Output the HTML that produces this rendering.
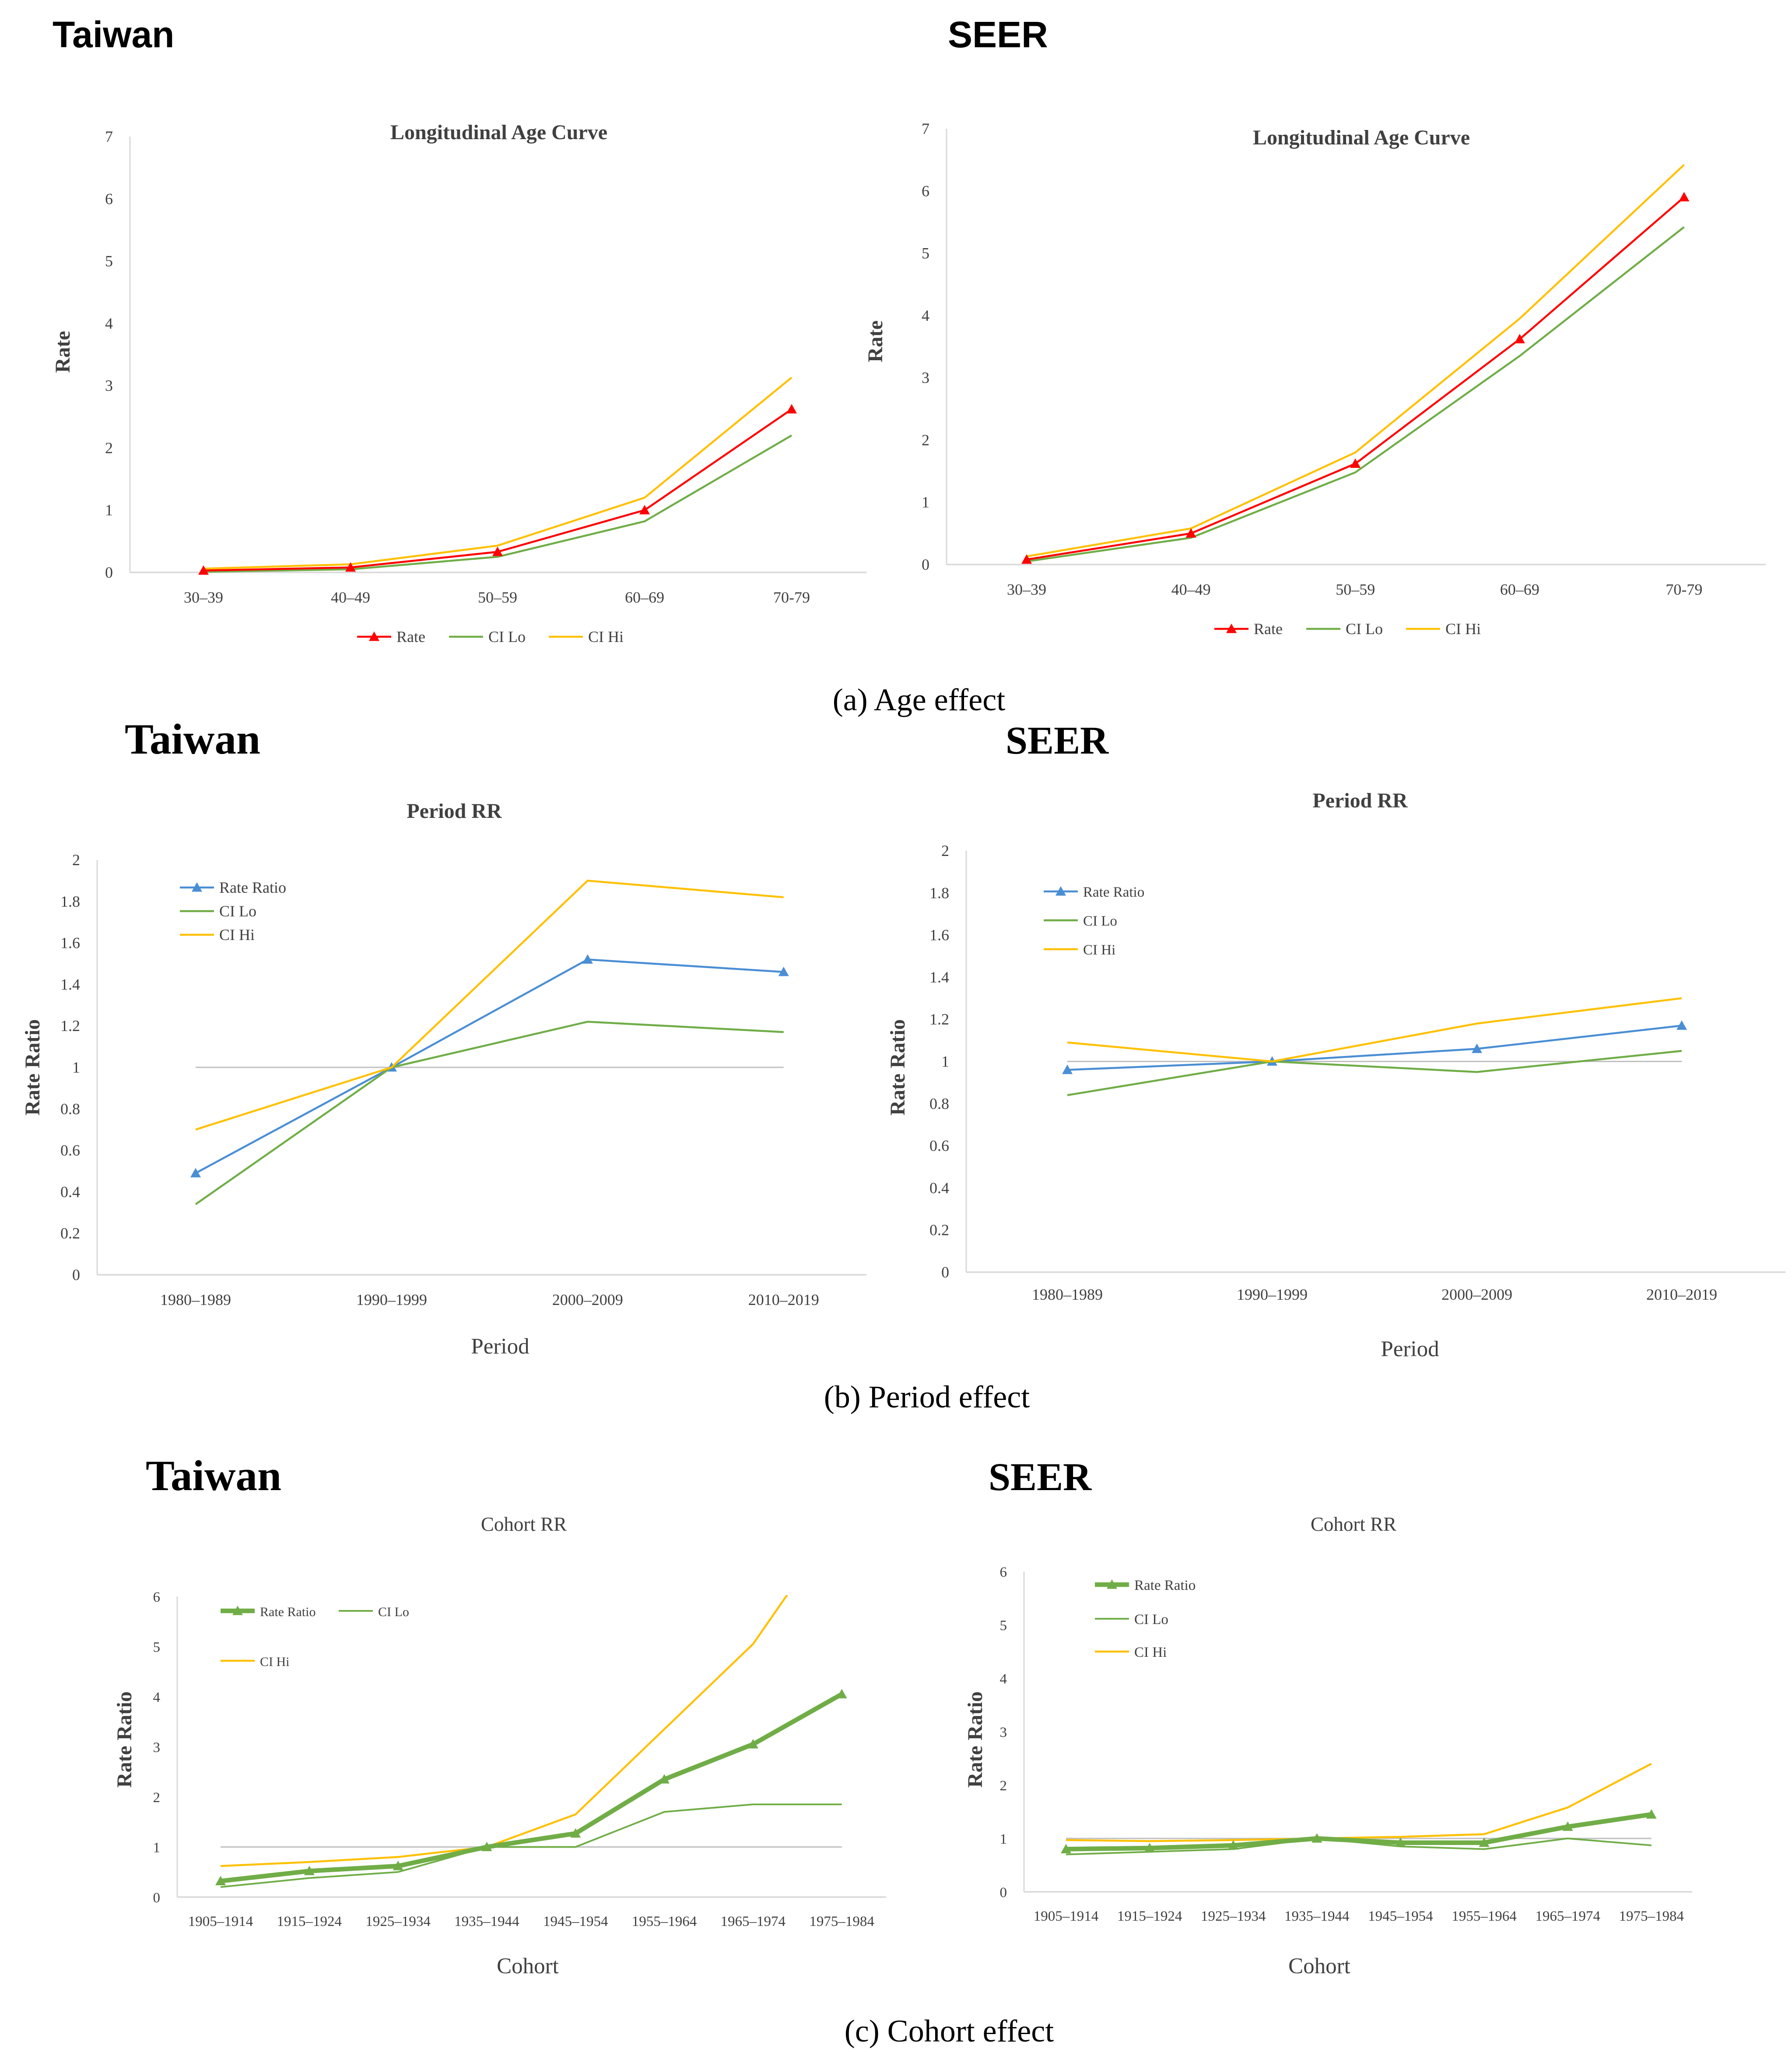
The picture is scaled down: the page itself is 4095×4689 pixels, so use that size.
<!DOCTYPE html>
<html><head><meta charset="utf-8"><style>
html,body{margin:0;padding:0;background:#fff;}
svg{display:block;}
text{font-family:"Liberation Serif",serif;fill:#404040;}
.big{font-family:"Liberation Sans",sans-serif;font-weight:bold;fill:#000;}
.bigs{font-family:"Liberation Serif",serif;font-weight:bold;fill:#000;}
</style></head><body>
<svg id="fig" width="4095" height="4689" viewBox="0 0 1365 1563" xmlns="http://www.w3.org/2000/svg">
<text class="big" x="40" y="36" font-size="28">Taiwan</text>
<text class="big" x="722" y="36" font-size="28">SEER</text>
<text x="700" y="541" font-size="24" text-anchor="middle" fill="#000" style="fill:#000">(a) Age effect</text>
<text class="bigs" x="95" y="574" font-size="33">Taiwan</text>
<text class="bigs" x="766" y="574" font-size="30">SEER</text>
<text x="706" y="1072" font-size="24" text-anchor="middle" style="fill:#000">(b) Period effect</text>
<text class="bigs" x="111" y="1135" font-size="33">Taiwan</text>
<text class="bigs" x="753" y="1135" font-size="30">SEER</text>
<text x="723" y="1555" font-size="24" text-anchor="middle" style="fill:#000">(c) Cohort effect</text>
</svg>
<script>
// ---- data ----
const ageCats = ["30–39","40–49","50–59","60–69","70-79"];
const twAgeRate = [0.03,0.08,0.33,1.0,2.62];
const twAgeLo = [0.01,0.05,0.25,0.82,2.2];
const twAgeHi = [0.06,0.13,0.43,1.2,3.13];
const seAgeRate = [0.08,0.5,1.62,3.62,5.9];
const seAgeLo = [0.05,0.43,1.48,3.35,5.42];
const seAgeHi = [0.13,0.58,1.8,3.95,6.42];
const ageTicks = ["0","1","2","3","4","5","6","7"];
const perCats = ["1980–1989","1990–1999","2000–2009","2010–2019"];
const twPerRate = [0.49,1,1.52,1.46];
const twPerLo = [0.34,1,1.22,1.17];
const twPerHi = [0.7,1,1.9,1.82];
const sePerRate = [0.96,1,1.06,1.17];
const sePerLo = [0.84,1,0.95,1.05];
const sePerHi = [1.09,1,1.18,1.3];
const perTicks = ["0","0.2","0.4","0.6","0.8","1","1.2","1.4","1.6","1.8","2"];
const cohCats = ["1905–1914","1915–1924","1925–1934","1935–1944","1945–1954","1955–1964","1965–1974","1975–1984"];
const twCohRate = [0.32,0.52,0.62,1,1.27,2.35,3.05,4.05];
const twCohLo = [0.2,0.38,0.5,1,1,1.7,1.85,1.85];
const twCohHi = [0.62,0.7,0.8,1,1.65,3.35,5.05,7.6];
const seCohRate = [0.8,0.82,0.87,1,0.92,0.92,1.22,1.45];
const seCohLo = [0.7,0.75,0.8,1,0.85,0.8,1.0,0.87];
const seCohHi = [0.97,0.95,0.97,1,1.03,1.08,1.58,2.4];
const cohTicks = ["0","1","2","3","4","5","6"];

const NS="http://www.w3.org/2000/svg";
const svg=document.getElementById('fig');
function mk(tag,attrs,parent){const e=document.createElementNS(NS,tag);for(const k in attrs)e.setAttribute(k,attrs[k]);(parent||svg).appendChild(e);return e;}
function tri(g,x,y,c,s){const p=mk('polygon',{points:`${x},${y-s} ${x-s},${y+s*0.8} ${x+s},${y+s*0.8}`,fill:c},g);return p;}

function chart(o){
  const g=mk('g',{});
  
  
  const xs=i=>o.x0+i*o.dx;
  const ys=v=>o.y0-(Math.min(v,o.ymax)/o.ymax)*(o.y0-o.y1);
  const clip=mk('clipPath',{id:o.name+'-clip'},g);
  mk('rect',{x:o.ax,y:o.y1-1,width:o.axEnd-o.ax,height:o.y0-o.y1+2},clip);
  const ya=mk('line',{x1:o.ax,y1:o.y1,x2:o.ax,y2:o.y0,stroke:'#d9d9d9','stroke-width':1},g);
  
  const xa=mk('line',{x1:o.ax,y1:o.y0,x2:o.axEnd,y2:o.y0,stroke:'#d9d9d9','stroke-width':1.2},g);
  
  o.ticks.forEach((t,i)=>{const v=parseFloat(t);const tx=mk('text',{x:o.ax-13,y:ys(v)+4,'font-size':o.tf,'text-anchor':'end'},g);tx.textContent=t;
    });
  o.cats.forEach((c,i)=>{const tx=mk('text',{x:xs(i),y:o.y0+o.xtOff,'font-size':o.tf,'text-anchor':'middle'},g);tx.textContent=c;
    });
  if(o.ref){const r=mk('line',{x1:xs(0),y1:ys(1),x2:xs(o.cats.length-1),y2:ys(1),stroke:'#bfbfbf','stroke-width':1},g);
    }
  const t=mk('text',{x:o.tx,y:o.ty,'font-size':o.ttf,'text-anchor':'middle','font-weight':o.tb?'bold':'normal'},g);t.textContent=o.title;
  
  const yt=mk('text',{x:0,y:0,'font-size':16,'text-anchor':'middle','font-weight':'bold',transform:`translate(${o.ytx},${o.yty}) rotate(-90)`},g);yt.textContent=o.ytitle;
  
  if(o.xtitle){const xt=mk('text',{x:o.xtx,y:o.xty,'font-size':17,'text-anchor':'middle'},g);xt.textContent=o.xtitle;
    }
  o.series.forEach(s=>{
    const pts=s.v.map((v,i)=>`${xs(i)},${o.y0-(v/o.ymax)*(o.y0-o.y1)}`).join(' ');
    const pl=mk('polyline',{points:pts,fill:'none',stroke:s.c,'stroke-width':s.w,'clip-path':`url(#${o.name}-clip)`},g);
    
    
    if(s.m) s.v.forEach((v,i)=>{const p=tri(g,xs(i),ys(v),s.c,4);
      });
    const L=s.leg;
    const ll=mk('line',{x1:L[0],y1:L[1],x2:L[0]+26,y2:L[1],stroke:s.c,'stroke-width':s.w},g);
    
    if(s.m){const p=tri(g,L[0]+13,L[1],s.c,4);}
    const lt=mk('text',{x:L[0]+30,y:L[1]+4,'font-size':o.lf},g);lt.textContent=s.n;
    
  });
}
const RED='#ff0000',GRN='#70ad47',YEL='#ffc000',BLU='#4a8ed4';
chart({name:'taiwan-age-chart',ax:99,axEnd:660,x0:155,dx:112,y0:436,y1:104,ymax:7,ticks:ageTicks,cats:ageCats,tf:12,lf:12,xtOff:23,
  title:'Longitudinal  Age Curve',tx:380,ty:106,ttf:16,tb:true,ytitle:'Rate',ytx:53,yty:268,
  series:[{n:'CI Lo',v:twAgeLo,c:GRN,w:1.5,leg:[342,485]},{n:'CI Hi',v:twAgeHi,c:YEL,w:1.5,leg:[418,485]},{n:'Rate',v:twAgeRate,c:RED,w:1.5,m:1,leg:[272,485]}]});
chart({name:'seer-age-chart',ax:721,axEnd:1345,x0:782,dx:125.2,y0:430,y1:98,ymax:7,ticks:ageTicks,cats:ageCats,tf:12,lf:12,xtOff:23,
  title:'Longitudinal  Age Curve',tx:1037,ty:110,ttf:16,tb:true,ytitle:'Rate',ytx:672,yty:260,
  series:[{n:'CI Lo',v:seAgeLo,c:GRN,w:1.5,leg:[995,479]},{n:'CI Hi',v:seAgeHi,c:YEL,w:1.5,leg:[1071,479]},{n:'Rate',v:seAgeRate,c:RED,w:1.5,m:1,leg:[925,479]}]});
chart({name:'taiwan-period-chart',ax:74,axEnd:660,x0:149,dx:149.3,y0:971,y1:655,ymax:2,ticks:perTicks,cats:perCats,tf:12,lf:12,xtOff:23,ref:1,
  title:'Period RR',tx:346,ty:623,ttf:16,tb:true,ytitle:'Rate Ratio',ytx:30,yty:813,xtitle:'Period',xtx:381,xty:1031,
  series:[{n:'Rate Ratio',v:twPerRate,c:BLU,w:1.5,m:1,leg:[137,676]},{n:'CI Lo',v:twPerLo,c:GRN,w:1.5,leg:[137,694]},{n:'CI Hi',v:twPerHi,c:YEL,w:1.5,leg:[137,712]}]});
chart({name:'seer-period-chart',ax:736,axEnd:1360,x0:813,dx:156,y0:969,y1:648,ymax:2,ticks:perTicks,cats:perCats,tf:12,lf:11,xtOff:21,ref:1,
  title:'Period RR',tx:1036,ty:615,ttf:16,tb:true,ytitle:'Rate Ratio',ytx:689,yty:813,xtitle:'Period',xtx:1074,xty:1033,
  series:[{n:'Rate Ratio',v:sePerRate,c:BLU,w:1.5,m:1,leg:[795,679]},{n:'CI Lo',v:sePerLo,c:GRN,w:1.5,leg:[795,701]},{n:'CI Hi',v:sePerHi,c:YEL,w:1.5,leg:[795,723]}]});
chart({name:'taiwan-cohort-chart',ax:135,axEnd:675,x0:168,dx:67.6,y0:1445,y1:1216,ymax:6,ticks:cohTicks,cats:cohCats,tf:11,lf:10,xtOff:22,ref:1,
  title:'Cohort RR',tx:399,ty:1166,ttf:15,tb:false,ytitle:'Rate Ratio',ytx:100,yty:1325,xtitle:'Cohort',xtx:402,xty:1503,
  series:[{n:'CI Lo',v:twCohLo,c:GRN,w:1.3,leg:[258,1227]},{n:'CI Hi',v:twCohHi,c:YEL,w:1.5,leg:[168,1265]},{n:'Rate Ratio',v:twCohRate,c:GRN,w:3.5,m:1,leg:[168,1227]}]});
chart({name:'seer-cohort-chart',ax:780,axEnd:1289,x0:812,dx:63.7,y0:1441,y1:1197,ymax:6,ticks:cohTicks,cats:cohCats,tf:11,lf:11,xtOff:22,ref:1,
  title:'Cohort RR',tx:1031,ty:1166,ttf:15,tb:false,ytitle:'Rate Ratio',ytx:748,yty:1325,xtitle:'Cohort',xtx:1005,xty:1503,
  series:[{n:'CI Lo',v:seCohLo,c:GRN,w:1.3,leg:[834,1233]},{n:'CI Hi',v:seCohHi,c:YEL,w:1.5,leg:[834,1258]},{n:'Rate Ratio',v:seCohRate,c:GRN,w:3.5,m:1,leg:[834,1207]}]});
</script>
</body></html>
